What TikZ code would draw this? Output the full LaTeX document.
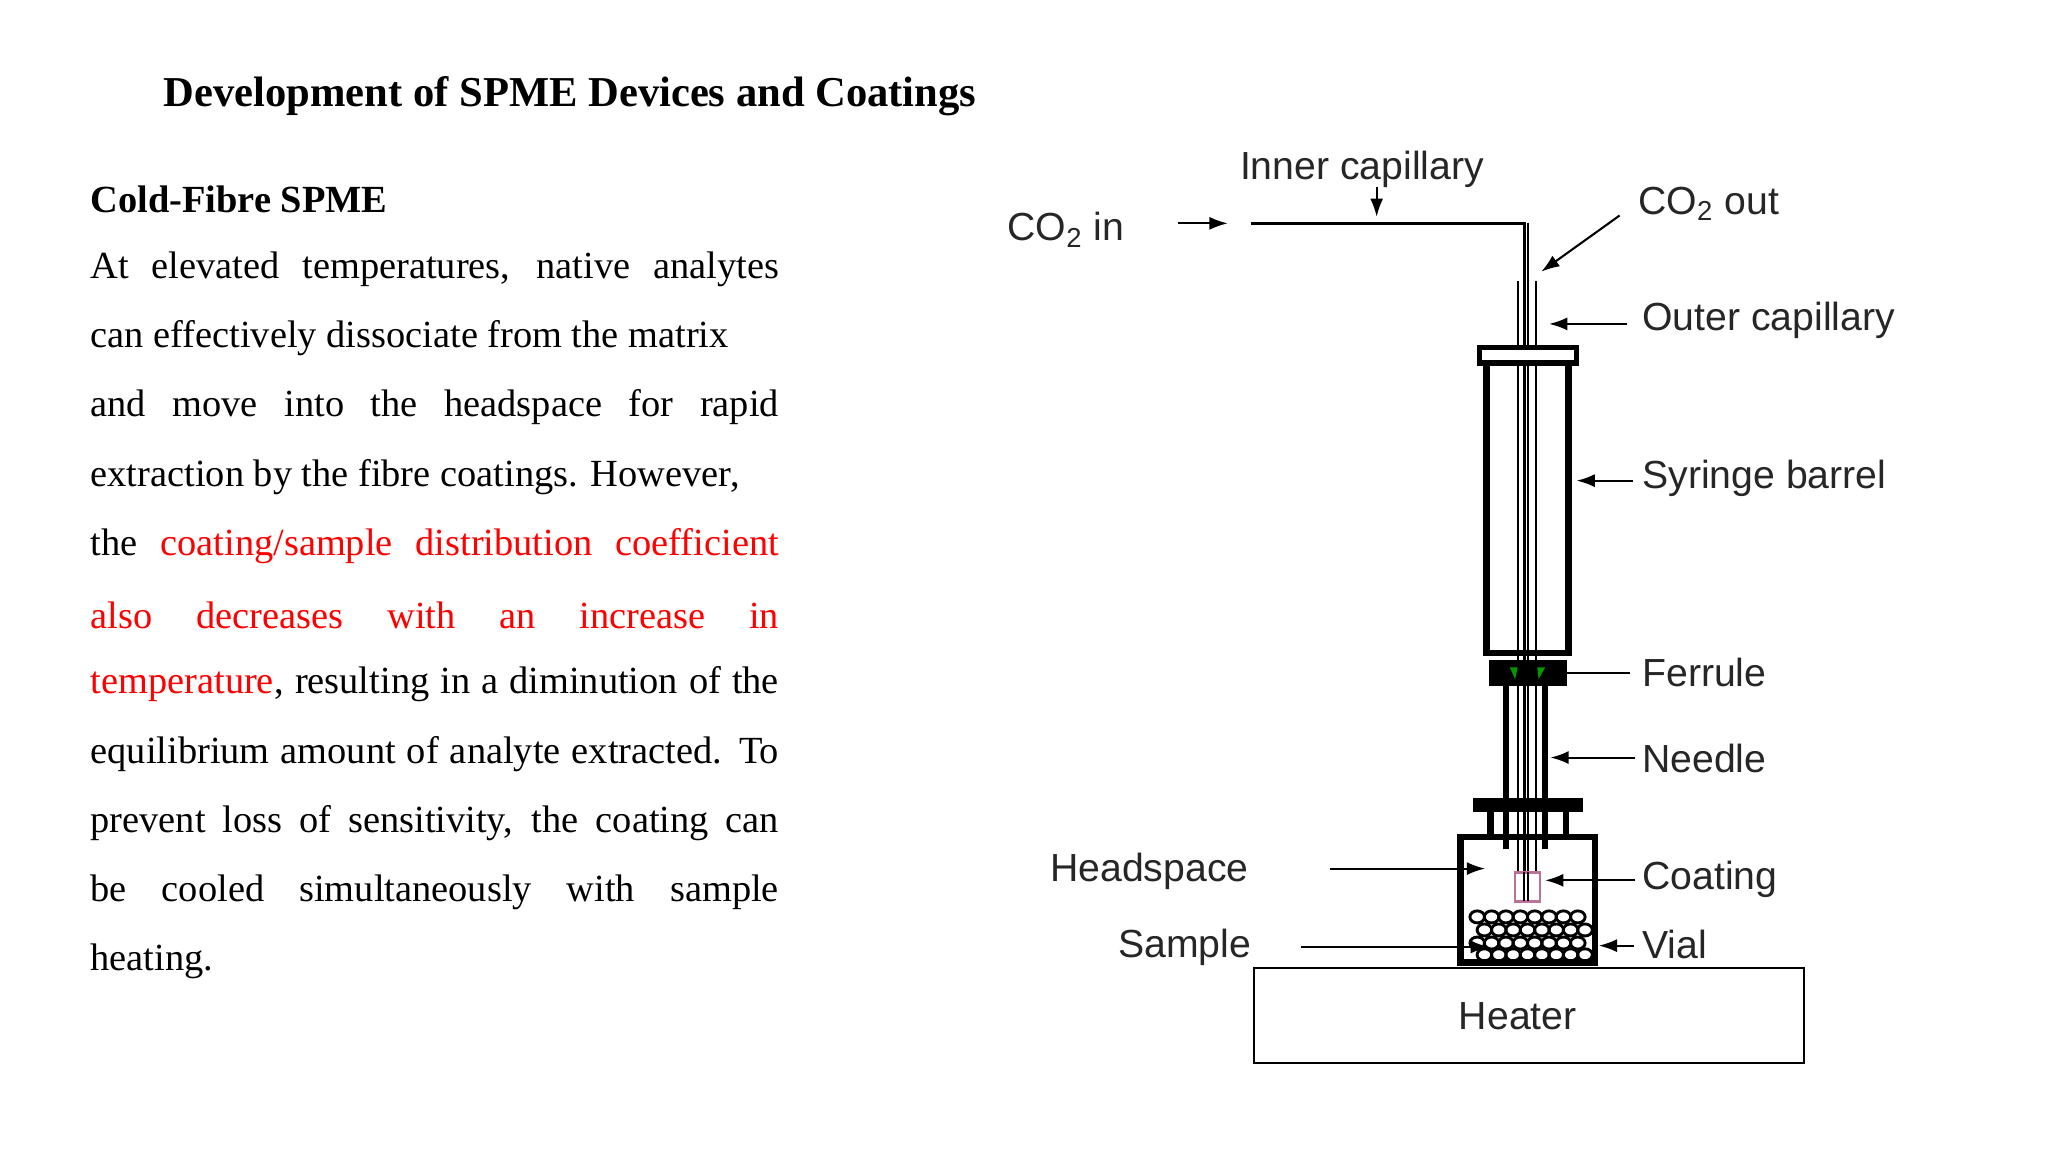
\documentclass[tikz,border=0pt]{standalone}
\usepackage{fontspec}
\setmainfont{Liberation Serif}
\newfontfamily\lsans{Liberation Sans}
\usetikzlibrary{arrows.meta}
\begin{document}
\begin{tikzpicture}[x=0.5pt,y=-0.5pt,
  lab/.style={font=\lsans\fontsize{15}{17}\selectfont,text=black!85,inner sep=0pt},
  body/.style={anchor=west,inner sep=0pt,font=\fontsize{14.7}{17}\selectfont},
  arr/.style={-{Latex[length=7pt,width=5pt]},line width=0.8pt},
  thk/.style={line width=2pt}]
\useasboundingbox (0,0) rectangle (1568,882);
\node[anchor=west,inner sep=0pt,font=\bfseries\fontsize{16.3}{19}\selectfont] (title) at (125,74) {Development of SPME Devices and Coatings};
\node[body,font=\bfseries\fontsize{14.7}{17}\selectfont] (sub) at (69,153) {Cold-Fibre SPME};
\def\jl#1{\makebox[263.5pt][s]{#1}}
\node[body] (l1) at (69,206) {\jl{At elevated temperatures, native analytes}};
\node[body] (l2) at (69,259) {can effectively dissociate from the matrix};
\node[body] (l3) at (69,312) {\jl{and move into the headspace for rapid}};
\node[body] (l4) at (69,365) {extraction by the fibre coatings. However,};
\node[body] (l5) at (69,418) {\jl{the \textcolor{red}{coating/sample} \textcolor{red}{distribution} \textcolor{red}{coefficient}}};
\node[body,text=red] (l6) at (69,471) {\jl{also decreases with an increase in}};
\node[body] (l7) at (69,524) {\jl{\textcolor{red}{temperature}, resulting in a diminution of the}};
\node[body] (l8) at (69,577) {\jl{equilibrium amount of analyte extracted. To}};
\node[body] (l9) at (69,630) {\jl{prevent loss of sensitivity, the coating can}};
\node[body] (l10) at (69,683) {\jl{be cooled simultaneously with sample}};
\node[body] (l11) at (69,736) {heating.};
% device
\draw[line width=1.3pt] (958,171) -- (1167,171) -- (1167,690);
\draw[line width=0.7pt] (1170,171) -- (1170,690);
\draw[line width=0.7pt] (1162,215) -- (1162,690) (1176,215) -- (1176,690);
\draw[thk,fill=white] (1133,266) rectangle (1207,278);
\draw[line width=2.5pt] (1138,278) -- (1138,500) -- (1201,500) -- (1201,278);
\fill[black] (1140,505) rectangle (1200,525);
\fill[green!60!black] (1156,511) -- (1162,511) -- (1160,520) -- cycle (1177,511) -- (1183,511) -- (1178,520) -- cycle;
\draw[line width=2.5pt] (1153,525) -- (1153,650) (1183,525) -- (1183,650);
\fill[black] (1128,611) rectangle (1212,622);
\draw[line width=2.5pt] (1141,622) -- (1141,640) (1199,622) -- (1199,640);
\draw[line width=2.5pt] (1118,641) rectangle (1221,737);
\draw[magenta!60!black!70,line width=1pt,fill=white] (1160,668) rectangle (1179,690);
\draw[line width=0.6pt] (1167,668) -- (1167,690) (1170,668) -- (1170,690);
\begin{scope}
\clip (1120,694) rectangle (1219,735);
\foreach \r/\yy in {0/702,1/712,2/722,3/731}{
  \foreach \i in {0,...,7}{
    \pgfmathsetmacro\xx{1131+\i*11+mod(\r,2)*5.5}
    \draw[line width=1.1pt] (\xx,\yy) ellipse (2.8pt and 2.3pt);
  }}
\end{scope}
\draw[line width=0.8pt] (960,741) rectangle (1381,814);
% labels
\node[lab] (heater) at (1162,778) {Heater};
\node[lab,anchor=west] (co2in) at (771,176) {CO\textsubscript{2} in};
\coordinate (a1) at (902,171); \coordinate (a2) at (940,171);
\draw[arr] (a1) -- (a2);
\node[lab,anchor=west] (inner) at (949,130) {Inner capillary};
\coordinate (b1) at (1054,143); \coordinate (b2) at (1054,166);
\draw[arr] (b1) -- (b2);
\node[lab,anchor=west] (co2out) at (1254,156) {CO\textsubscript{2} out};
\coordinate (c1) at (1240,165); \coordinate (c2) at (1180,208);
\draw[arr] (c1) -- (c2);
\node[lab,anchor=west] (outer) at (1257,245) {Outer capillary};
\coordinate (d1) at (1246,248); \coordinate (d2) at (1186,248);
\draw[arr] (d1) -- (d2);
\node[lab,anchor=west] (barrel) at (1257,366) {Syringe barrel};
\coordinate (e1) at (1250,368); \coordinate (e2) at (1207,368);
\draw[arr] (e1) -- (e2);
\node[lab,anchor=west] (ferrule) at (1257,515) {Ferrule};
\coordinate (f1) at (1248,515); \coordinate (f2) at (1200,515);
\draw[line width=0.8pt] (f1) -- (f2);
\node[lab,anchor=west] (needle) at (1257,581) {Needle};
\coordinate (g1) at (1252,580); \coordinate (g2) at (1187,580);
\draw[arr] (g1) -- (g2);
\node[lab,anchor=west] (coating) at (1257,673) {Coating};
\coordinate (h1) at (1252,674); \coordinate (h2) at (1183,674);
\draw[arr] (h1) -- (h2);
\node[lab,anchor=west] (vial) at (1257,723) {Vial};
\coordinate (i1) at (1251,724); \coordinate (i2) at (1224,724);
\draw[arr] (i1) -- (i2);
\node[lab] (head) at (880,667) {Headspace};
\coordinate (j1) at (1018,665); \coordinate (j2) at (1137,665);
\draw[arr] (j1) -- (j2);
\node[lab] (sample) at (907,725) {Sample};
\coordinate (k1) at (996,725); \coordinate (k2) at (1140,725);
\draw[arr] (k1) -- (k2);
\end{tikzpicture}
\end{document}
